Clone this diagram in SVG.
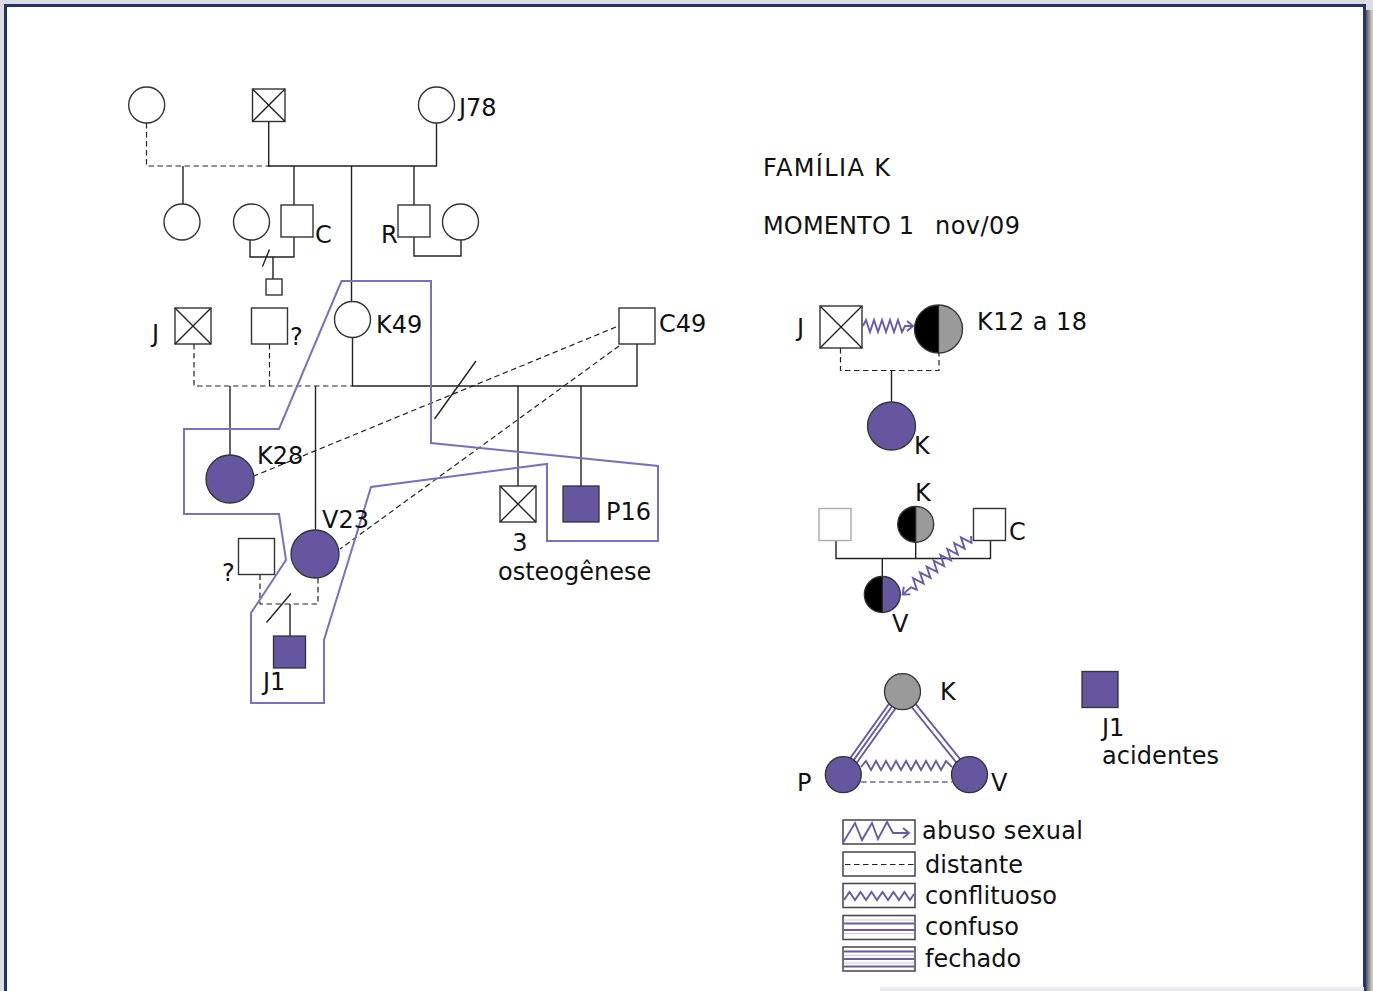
<svg xmlns="http://www.w3.org/2000/svg" width="1373" height="991" viewBox="0 0 1373 991">
<defs>
<style>
text{font-family:"DejaVu Sans",Verdana,sans-serif;font-size:24px;fill:#111}
.ln{stroke:#222;stroke-width:1.4;fill:none}
.ds{stroke:#222;stroke-width:1.2;stroke-dasharray:5.5 3.5;fill:none}
.nd{fill:#fff;stroke:#333;stroke-width:1.4}
.pf{fill:#6656a0;stroke:#333;stroke-width:1.3}
.pt{stroke:#6a5aa8;stroke-width:1.9;fill:none}
.bd{fill:none;stroke:#7b70bd;stroke-width:2}
.lg{fill:#fff;stroke:#444;stroke-width:1.5}
</style>
<linearGradient id="sh" x1="0" x2="1" y1="0" y2="0">
<stop offset="0" stop-color="#555"/><stop offset="1" stop-color="#ddd"/>
</linearGradient>
</defs>
<rect width="1373" height="991" fill="#dcdce4"/>
<rect x="1366" y="10" width="7" height="981" fill="url(#sh)"/>
<rect x="5.5" y="5.5" width="1359" height="995" fill="#fff" stroke="#27336e" stroke-width="3"/>
<rect x="880" y="987" width="484" height="4" fill="#ececf0"/>

<g id="connectors">
<path class="ds" d="M146.5,123 V166 H270"/>
<path class="ln" d="M268.7,122 V166 H436.5 V123"/>
<path class="ln" d="M183,166 V204 M294,166 V205 M351.5,166 V301.5 M414,166 V205"/>
<path class="ln" d="M250,240 V257 H294 V237 M262.5,266.5 L269.5,249.5 M273,257 V279"/>
<path class="ln" d="M414,237 V256 H461 V240"/>
<path class="ds" d="M194,344 V386 H352 M269.5,344 V386"/>
<path class="ln" d="M352.5,337.5 V386 H637 V344 M476,361 L434.5,419"/>
<path class="ln" d="M230,386 V455 M315.5,386 V530 M518,386 V486 M581,386 V486"/>
<path class="ds" d="M616,327 L254,476 M619,346 L340,549"/>
<path class="ds" d="M260,574.5 V604 H318 V578"/>
<path class="ln" d="M290,604 V636 M266.5,622.5 L291,593.5"/>
<path class="bd" d="M341.5,281 H431 V443 L658,466 V541 H547 V464 L371,487 L324,640 V703 H251 V613 L286,560 L279,514 H184 V429 H279 Z"/>
<path class="pt" d="M863,326 L866,320 L870,332 L874,320 L878,332 L882,320 L886,332 L890,320 L894,332 L898,320 L902,332 L905,326 H913 M907,321 L913,326 L907,331"/>
<path class="ds" d="M840.5,348 V370.5 H939 V353"/>
<path class="ln" d="M891.5,370.5 V402"/>
<path class="ln" d="M836,540.5 V558.5 H990.5 V540.5 M915.7,542.3 V558.5 M882.3,558.5 V576.5"/>
<g transform="translate(971,536) rotate(139.5)">
<path class="pt" d="M0,0 L4,-5.5 L8.5,5.5 L13,-5.5 L17.5,5.5 L22,-5.5 L26.5,5.5 L31,-5.5 L35.5,5.5 L40,-5.5 L44.5,5.5 L49,-5.5 L53.5,5.5 L58,-5.5 L62.5,5.5 L67,-5.5 L71.5,5.5 L76,-5.5 L79,0 H90 M84,-5 L90,0 L84,5"/>
</g>
<g transform="translate(902.5,691.7) rotate(125.5)">
<path class="pt" d="M17,-4 H85 M17,0 H85 M17,4 H85" stroke-width="1.5"/>
</g>
<g transform="translate(902.5,691.7) rotate(51.1)">
<path class="pt" d="M17,-2.5 H90 M17,2.5 H90" stroke-width="1.5"/>
</g>
<path class="pt" d="M861,767 L866,761 L871,770 L876,761 L881,770 L886,761 L891,770 L896,761 L901,770 L906,761 L911,770 L916,761 L921,770 L926,761 L931,770 L936,761 L941,770 L946,761 L952,767"/>
<path class="ds" d="M861,782 H952"/>
</g>

<g id="n-top1"><circle class="nd" cx="146.7" cy="105" r="18"/></g>
<g id="n-top2"><rect class="nd" x="252.5" y="89" width="32.5" height="32.5"/><path class="ln" d="M252.5,89 L285,121.5 M285,89 L252.5,121.5"/></g>
<g id="n-J78"><circle class="nd" cx="436.5" cy="105" r="18"/><text x="459" y="116">J78</text></g>
<g id="n-g2a"><circle class="nd" cx="182" cy="222" r="18"/></g>
<g id="n-g2b"><circle class="nd" cx="251.5" cy="222" r="18"/></g>
<g id="n-C"><rect class="nd" x="281" y="205" width="32" height="32"/><text x="315" y="243">C</text></g>
<g id="n-child"><rect class="nd" x="266" y="279" width="16" height="16"/></g>
<g id="n-R"><rect class="nd" x="398" y="205" width="32" height="32"/><text x="381" y="243">R</text></g>
<g id="n-g2c"><circle class="nd" cx="460.5" cy="222" r="18"/></g>
<g id="n-J"><rect class="nd" x="175" y="308" width="36" height="36"/><path class="ln" d="M175,308 L211,344 M211,308 L175,344"/><text x="152" y="342">J</text></g>
<g id="n-q1"><rect class="nd" x="251.5" y="308" width="36" height="36"/><text x="290" y="345">?</text></g>
<g id="n-K49"><circle class="nd" cx="352.5" cy="319.5" r="18"/><text x="376" y="333">K49</text></g>
<g id="n-C49"><rect class="nd" x="619" y="308" width="36" height="36"/><text x="659" y="332">C49</text></g>
<g id="n-K28"><circle class="pf" cx="230" cy="479" r="24"/><text x="257" y="464">K28</text></g>
<g id="n-V23"><circle class="pf" cx="315" cy="554" r="24"/><text x="322" y="528">V23</text></g>
<g id="n-3"><rect class="nd" x="500" y="486" width="36" height="36"/><path class="ln" d="M500,486 L536,522 M536,486 L500,522"/><text x="520" y="551" text-anchor="middle">3</text><text x="498" y="580">osteogênese</text></g>
<g id="n-P16"><rect class="pf" x="563" y="486" width="36" height="36"/><text x="606" y="520">P16</text></g>
<g id="n-q2"><rect class="nd" x="238.5" y="538.5" width="36" height="36"/><text x="222" y="581">?</text></g>
<g id="n-J1"><rect class="pf" x="273.5" y="636" width="32" height="32"/><text x="263" y="690">J1</text></g>

<g id="title"><text x="763" y="176" textLength="127">FAMÍLIA K</text><text x="763" y="234" textLength="151">MOMENTO 1</text><text x="935" y="234" textLength="85">nov/09</text></g>

<g id="r-J"><rect class="nd" x="820" y="306" width="42" height="42"/><path class="ln" d="M820,306 L862,348 M862,306 L820,348"/><text x="797" y="336">J</text></g>
<g id="r-K12"><path d="M938.5,305 A24,24 0 0 0 938.5,353 Z" fill="#000"/><path d="M938.5,305 A24,24 0 0 1 938.5,353 Z" fill="#9a9a9a"/><circle cx="938.5" cy="329" r="24" fill="none" stroke="#333" stroke-width="1.3"/><line x1="938.5" y1="305" x2="938.5" y2="353" stroke="#222" stroke-width="1.2"/><text x="977" y="330" textLength="110">K12 a 18</text></g>
<g id="r-K"><circle class="pf" cx="891.5" cy="426" r="24"/><text x="914" y="454">K</text></g>

<g id="r2-grey"><rect x="819" y="508.5" width="32" height="32" fill="#fff" stroke="#b0b0b0" stroke-width="1.5"/></g>
<g id="r2-K"><path d="M915.7,506.3 A18,18 0 0 0 915.7,542.3 Z" fill="#000"/><path d="M915.7,506.3 A18,18 0 0 1 915.7,542.3 Z" fill="#9a9a9a"/><circle cx="915.7" cy="524.3" r="18" fill="none" stroke="#333" stroke-width="1.3"/><line x1="915.7" y1="506.3" x2="915.7" y2="542.3" stroke="#222" stroke-width="1.2"/><text x="915" y="501">K</text></g>
<g id="r2-C"><rect class="nd" x="973.5" y="508.5" width="32" height="32"/><text x="1009" y="540">C</text></g>
<g id="r2-V"><path d="M882.3,576.5 A18,18 0 0 0 882.3,612.5 Z" fill="#000"/><path d="M882.3,576.5 A18,18 0 0 1 882.3,612.5 Z" fill="#6656a0"/><circle cx="882.3" cy="594.5" r="18" fill="none" stroke="#333" stroke-width="1.3"/><line x1="882.3" y1="576.5" x2="882.3" y2="612.5" stroke="#222" stroke-width="1.2"/><text x="892" y="632">V</text></g>

<g id="t-K"><circle cx="902.5" cy="691.7" r="18" fill="#9a9a9a" stroke="#333" stroke-width="1.3"/><text x="940" y="700">K</text></g>
<g id="t-P"><circle class="pf" cx="843.3" cy="774.7" r="18"/><text x="797" y="791">P</text></g>
<g id="t-V"><circle class="pf" cx="969.5" cy="774.7" r="18"/><text x="991" y="791">V</text></g>
<g id="n-J1b"><rect class="pf" x="1082" y="671.5" width="36" height="36"/><text x="1102" y="736">J1</text><text x="1102" y="764" textLength="117">acidentes</text></g>

<g id="legend">
<rect class="lg" x="843" y="820" width="72" height="24"/>
<path class="pt" d="M843.5,842 L855,823 L862,840 L872,823 L878,839 L887,822 L893,833 H908 M903,828 L909,833 L903,838"/>
<text x="922" y="839" textLength="161">abuso sexual</text>
<rect class="lg" x="843" y="852" width="72" height="24"/>
<path class="ds" d="M845,864.5 H914"/>
<text x="925" y="873">distante</text>
<rect class="lg" x="843" y="883.5" width="72" height="24"/>
<path class="pt" d="M844,900 L849.5,892 L855,900 L860.5,892 L866,900 L871.5,892 L877,900 L882.5,892 L888,900 L893.5,892 L899,900 L904.5,892 L910,900 L914,894"/>
<text x="925" y="904" textLength="132">conflituoso</text>
<rect class="lg" x="843" y="915.5" width="72" height="24"/>
<path d="M844,920 H914 M844,933.5 H914" stroke="#cfc8ea" stroke-width="1.2"/>
<path d="M844,923.5 H914 M844,930 H914" stroke="#6a5aa8" stroke-width="2"/>
<text x="925" y="935">confuso</text>
<rect class="lg" x="843" y="947" width="72" height="24"/>
<path d="M844,955.5 H914 M844,963 H914" stroke="#cfc8ea" stroke-width="1.2"/>
<path d="M844,951.5 H914 M844,959 H914 M844,966.5 H914" stroke="#6a5aa8" stroke-width="1.8"/>
<text x="925" y="967">fechado</text>
</g>
</svg>
